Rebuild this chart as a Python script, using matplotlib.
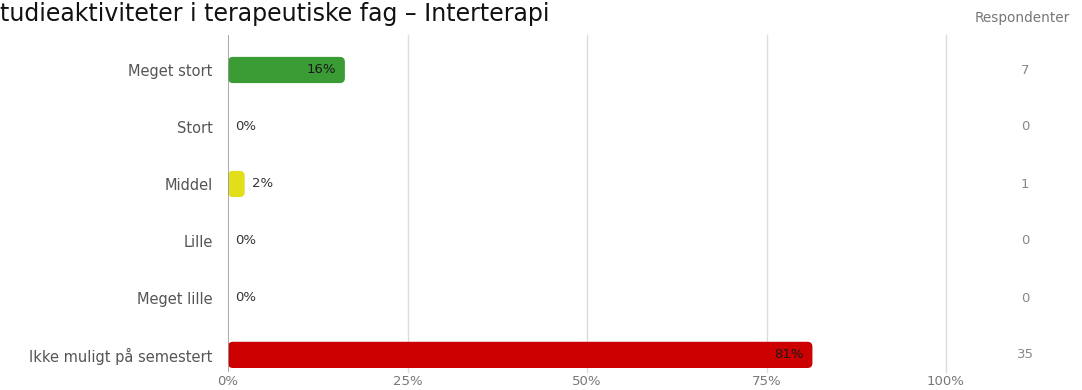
import numpy as np
import matplotlib
matplotlib.use("Agg")
import matplotlib.pyplot as plt
from matplotlib.patches import FancyBboxPatch

# data
kategorier = ["Meget stort", "Stort", "Middel", "Lille", "Meget lille", "Ikke muligt på semestert"]
respondenter = [7, 0, 1, 0, 0, 35]
farver = ["#3b9c35", "#3b9c35", "#e2df1a", "#e2df1a", "#cc0000", "#cc0000"]
xticks = [0, 25, 50, 75, 100]
xticklabels = ["0%", "25%", "50%", "75%", "100%"]

total = sum(respondenter)
pct = [100 * r / total for r in respondenter]

plt.rcParams['font.family'] = ['DejaVu Sans']

fig = plt.figure(figsize=(10.82, 3.90), dpi=100)
ax = fig.add_axes([228 / 1082, 18 / 390, (946 - 228) / 1082, 337 / 390])

y = np.arange(len(kategorier))
ax.set_xlim(0, 100)
ax.set_ylim(5 + 0.3, -0.614)

# gridlines
for t in xticks[1:]:
    ax.axvline(t, color="#dcdcdc", lw=1, zorder=0, clip_on=False)
ax.axvline(0, color="#9a9a9a", lw=1.2, zorder=3)

# bars with rounded ends
px_x = 100 / (946 - 228)
px_y = (5.914) / 337
aspect = px_y / px_x
h = 0.46
for i, p in enumerate(pct):
    if p <= 0:
        continue
    r = min(5 * px_x, p / 2)
    box = FancyBboxPatch((0, y[i] - h / 2), p, h,
                         boxstyle="round,pad=0,rounding_size=%f" % r,
                         mutation_aspect=aspect, fc=farver[i], ec="none", zorder=2)
    ax.add_patch(box)

# value labels
for i, p in enumerate(pct):
    lab = "%d%%" % round(p)
    if p > 10:
        ax.text(p - 1.2, y[i], lab, ha="right", va="center", fontsize=9.5,
                color="#1a1a1a", zorder=4)
    else:
        ax.text(p + 1.0, y[i], lab, ha="left", va="center", fontsize=9.5,
                color="#333333", zorder=4)

# category labels
ax.set_yticks(y)
ax.set_yticklabels(kategorier, fontsize=10.5, color="#555555")
ax.tick_params(axis="y", length=0, pad=11)

ax.set_xticks(xticks)
ax.set_xticklabels(xticklabels, fontsize=9.5, color="#777777")
ax.tick_params(axis="x", length=0, pad=2)

for s in ax.spines.values():
    s.set_visible(False)

# respondent column
for i, r in enumerate(respondenter):
    fig.text(1025 / 1082, 1 - (70 + 57 * i) / 390, str(r), ha="center", va="center",
             fontsize=9.5, color="#888888")
fig.text(1022 / 1082, 1 - 18 / 390, "Respondenter", ha="center", va="center",
         fontsize=9.8, color="#777777")

fig.text(0.0, 1 - 21 / 390, "tudieaktiviteter i terapeutiske fag – Interterapi",
         ha="left", va="baseline", fontsize=17, color="#111111")

fig.savefig("out.png", dpi=100)
